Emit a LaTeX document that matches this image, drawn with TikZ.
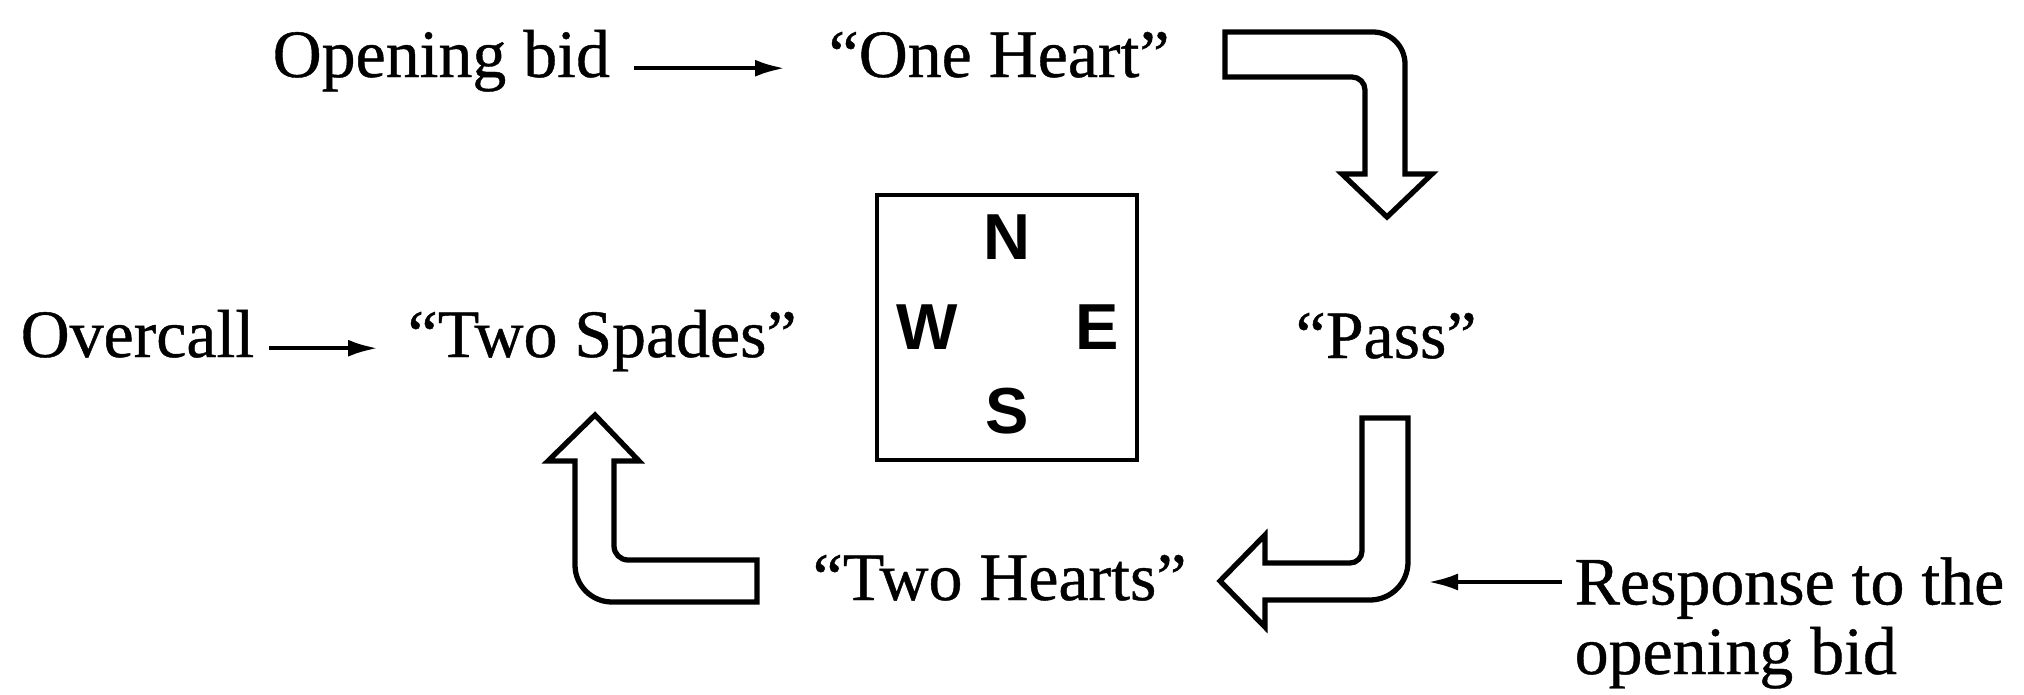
\documentclass[tikz,border=0pt]{standalone}
\usepackage{fontspec}
\setmainfont{Liberation Serif}[FakeBold=0.6]
\setsansfont{Liberation Sans}
\usetikzlibrary{positioning,arrows.meta}

\begin{document}
\begin{tikzpicture}[x=0.1mm, y=0.1mm,
  txt/.style={inner sep=0pt, font=\fontsize{19.3}{19.8}\selectfont},
  bid/.style={txt, anchor=base west, text height=0.72em, text depth=0.22em},
  pointer/.style={line width=1.2pt, -{Latex[length=3mm,width=1.7mm]}},
  hollow/.style={draw, line width=1.5pt, fill=white, line join=miter},
  letter/.style={inner sep=0pt, font=\fontsize{18.5}{18.5}\sffamily\bfseries\selectfont},
  ]
  \useasboundingbox (0,0) rectangle (2024,694);

  % the bids, clockwise round the table
  \node[bid] (opening) at (272,617) {Opening bid};
  \node[bid] (oneheart) at (828,617) {“One Heart”};
  \node[bid] (overcall) at (20,337) {Overcall};
  \node[bid] (twospades) at (407,337) {“Two Spades”};
  \node[bid] (pass) at (1295,336) {“Pass”};
  \node[bid] (twohearts) at (812,94) {“Two Hearts”};
  \node[txt, anchor=base west, align=left] (response) at (1574,20)
    {Response to the\\opening bid};

  % the table
  \node[draw, line width=1.1pt, inner sep=0pt, minimum width=26mm,
        minimum height=26.5mm] (compass) at (1007,366.5) {};
  \node[letter] (north) at ([yshift=9mm]compass.center) {N};
  \node[letter] (west) at ([xshift=-8mm]compass.center) {W};
  \node[letter] (east) at ([xshift=9mm]compass.center) {E};
  \node[letter] (south) at ([yshift=-8.4mm]compass.center) {S};

  % hollow arrows: N -> E -> S -> W
  \draw[hollow] (1225,662) -- (1373,662) arc[start angle=90, end angle=0, radius=32]
    -- (1405,520) -- (1432,520) -- (1387,477) -- (1342,520) -- (1365,520)
    -- (1365,604) arc[start angle=0, end angle=90, radius=13] -- (1225,617) -- cycle;
  \draw[hollow] (1362,276) -- (1408,276) -- (1408,132)
    arc[start angle=0, end angle=-90, radius=38] -- (1265,94) -- (1265,67)
    -- (1220,113) -- (1265,159) -- (1265,131) -- (1350,131)
    arc[start angle=-90, end angle=0, radius=12] -- cycle;
  \draw[hollow] (757,134) -- (628,134) arc[start angle=-90, end angle=-180, radius=14]
    -- (614,233) -- (639,233) -- (595,279) -- (548,233) -- (575,233)
    -- (575,129) arc[start angle=180, end angle=270, radius=37] -- (757,92) -- cycle;

  % small pointers
  \coordinate (resptip) at (1428,112);
  \draw[pointer, shorten <=2.3mm, shorten >=4.3mm] (opening.east) -- (oneheart.west);
  \draw[pointer, shorten <=1.4mm, shorten >=2.9mm] (overcall.east) -- (twospades.west);
  \draw[pointer, shorten <=1.2mm] (resptip -| response.west) -- (resptip);
\end{tikzpicture}
\end{document}
